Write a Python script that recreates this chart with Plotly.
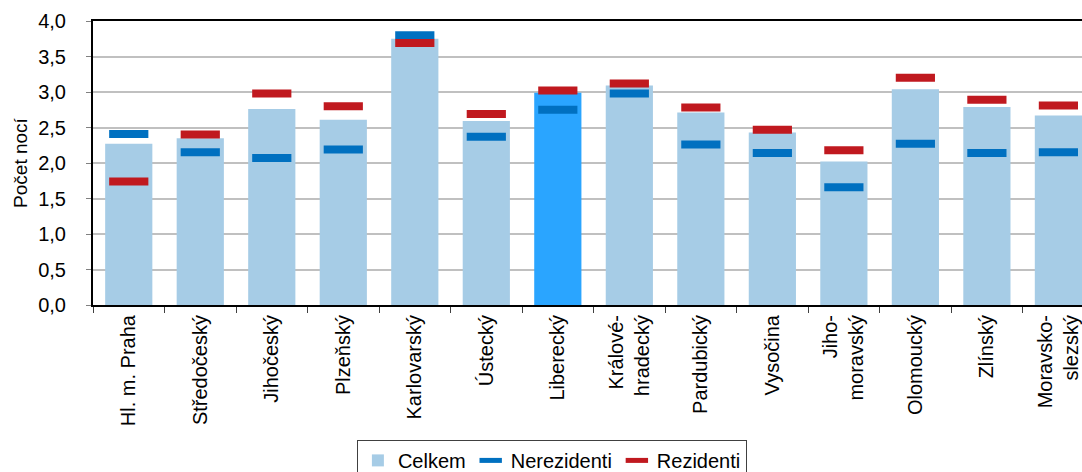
import plotly.graph_objects as go

regions = ["Hl. m. Praha", "Středočeský", "Jihočeský", "Plzeňský", "Karlovarský",
           "Ústecký", "Liberecký", "Králové-<br>hradecký", "Pardubický", "Vysočina",
           "Jiho-<br>moravský", "Olomoucký", "Zlínský", "Moravsko-<br>slezský"]
celkem = [2.27, 2.35, 2.76, 2.61, 3.75, 2.59, 2.99, 3.09, 2.71, 2.43, 2.02, 3.04, 2.79, 2.67]
nerezidenti = [2.41, 2.15, 2.07, 2.19, 3.80, 2.37, 2.75, 2.98, 2.26, 2.14, 1.66, 2.27, 2.14, 2.15]
rezidenti = [1.74, 2.40, 2.98, 2.80, 3.69, 2.69, 3.02, 3.12, 2.78, 2.47, 2.18, 3.20, 2.89, 2.81]
highlight = "Liberecký"

title_text = "Průměrný počet přenocování hostů v hromadných ubytovacích zařízeních podle krajů"

FONT = "Liberation Sans, Arial, sans-serif"
bar_colors = ["#2AA5FF" if r == highlight else "#A6CCE6" for r in regions]

fig = go.Figure()
fig.add_trace(go.Bar(
    x=regions, y=celkem, name="Celkem", width=0.66,
    marker=dict(color=bar_colors, line=dict(width=0)),
))
fig.add_trace(go.Scatter(
    x=regions, y=nerezidenti, name="Nerezidenti", mode="markers",
    marker=dict(symbol="line-ew", size=28, line=dict(width=8, color="#0070C0")),
))
fig.add_trace(go.Scatter(
    x=regions, y=rezidenti, name="Rezidenti", mode="markers",
    marker=dict(symbol="line-ew", size=28, line=dict(width=8, color="#C0191F")),
))

fig.update_layout(
    width=1082, height=472,
    margin=dict(l=93, r=0, t=21, b=167, autoexpand=False),
    paper_bgcolor="white", plot_bgcolor="white",
    separators=", ",
    font=dict(family=FONT, size=19, color="black"),
    showlegend=True,
    legend=dict(orientation="h", x=0.464, xanchor="center", y=-0.475, yanchor="top",
                bordercolor="#404040", borderwidth=1, font=dict(size=20),
                traceorder="normal", itemwidth=30, tracegroupgap=0),
    xaxis=dict(
        type="category", range=[-0.5, 13.33], automargin=False,
        showline=True, linecolor="black", linewidth=2, mirror=True,
        ticks="outside", tickson="boundaries", ticklen=6, tickcolor="#404040", tickwidth=1,
        tickangle=-90, tickfont=dict(size=20), showgrid=False,
    ),
    yaxis=dict(
        range=[0, 4], dtick=0.5, tickformat=".1f", automargin=False,
        showline=True, linecolor="black", linewidth=2,
        ticks="outside", ticklen=5, tickcolor="#808080",
        ticklabelstandoff=16,
        showgrid=True, gridcolor="#C0C0C0", gridwidth=1.5,
        tickfont=dict(size=20), zeroline=False,
        title=dict(text="Počet nocí", font=dict(size=19), standoff=6),
    ),
    annotations=[dict(
        text="<b>" + title_text + "</b>", xref="paper", yref="paper",
        x=0.41, y=1, xanchor="center", yanchor="bottom", yshift=22,
        showarrow=False, font=dict(size=17, family=FONT),
    )],
)

fig.write_html("out.html", config={"displayModeBar": False},
               post_script="document.body.style.margin='0';document.body.style.overflow='hidden';")
